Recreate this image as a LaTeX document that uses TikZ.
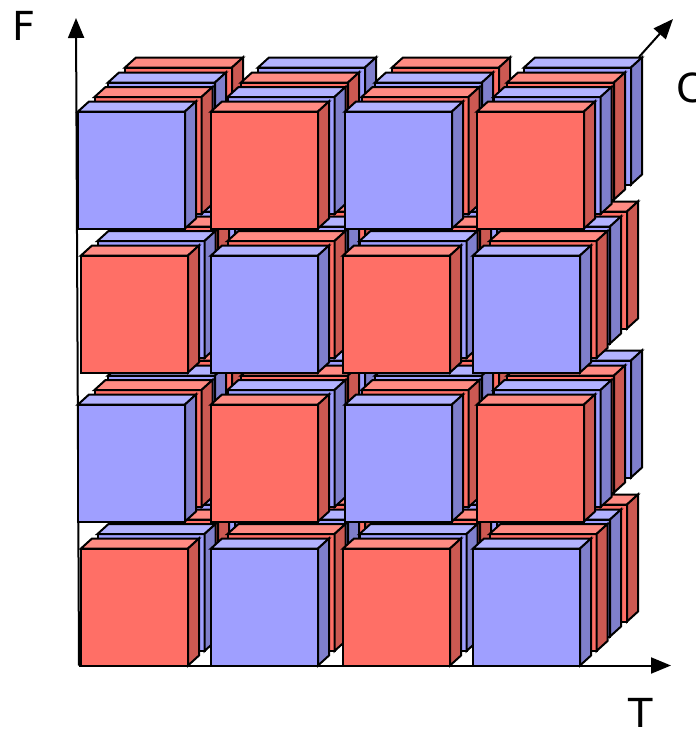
\documentclass[tikz,border=0pt]{standalone}
\usepackage{fontspec}
\setmainfont{DejaVu Sans}
\usetikzlibrary{arrows.meta}
\definecolor{blueF}{HTML}{9F9FFF}
\definecolor{blueT}{HTML}{B2B2FF}
\definecolor{blueS}{HTML}{7F7FCC}
\definecolor{redF}{HTML}{FF6F66}
\definecolor{redT}{HTML}{FF8B83}
\definecolor{redS}{HTML}{CC5952}
\tikzset{
  facet/.style={draw=black,line width=1.5pt,line join=miter},
  axisline/.style={draw=black,line width=1.5pt,-{Triangle[length=15pt,width=12pt]}},
  axislabel/.style={font=\fontsize{30pt}{32pt}\selectfont,inner sep=0pt,text=black}
}
% #1 x, #2 y of the front face's top left, #3 colour prefix
\newcommand{\drawcube}[3]{%
  \path[facet,fill=#3F] (#1,#2) rectangle ++(107,117);
  \path[facet,fill=#3T] (#1,#2) -- ++(11,-10) -- ++(107,0) -- ++(-11,10) -- cycle;
  \path[facet,fill=#3S] (#1+107,#2) -- ++(11,-10) -- ++(0,117) -- ++(-11,10) -- cycle;
}
\begin{document}
\begin{tikzpicture}[x=0.75pt,y=-0.75pt]
\useasboundingbox (0,0) rectangle (696,729);
\fill[white] (0,0) rectangle (696,729);
\coordinate (O) at (79,665.5);
\coordinate (Ftip) at (76,18);
\coordinate (Ttip) at (671,665.5);
\coordinate (Cbase) at (639,57);
\coordinate (Ctip) at (673,19);
\draw[axisline] (O) -- (Ftip);
\draw[axisline] (O) -- (Ttip);
\draw[axisline] (Cbase) -- (Ctip);
\node[axislabel] (labF) at (24.5,26) {F};
\node[axislabel] (labC) at (690,88) {C};
\node[axislabel] (labT) at (641,713) {T};
\foreach \lay/\dx/\dy in {3/47/-44,2/30/-29,1/16.5/-14.5,0/0/0}{
  \foreach \row/\yy in {0/111.5,1/255.5,2/404.5,3/548.5}{
    \foreach \col in {0,1,2,3}{
      \pgfmathtruncatemacro{\parity}{mod(\lay+\row+\col,2)}
      \pgfmathtruncatemacro{\oddrow}{mod(\row,2)}
      \ifnum\oddrow=0
        \pgfmathsetmacro{\xx}{{78,211,345,477}[\col]}
      \else
        \pgfmathsetmacro{\xx}{{81,211,343,473}[\col]}
      \fi
      \pgfmathsetmacro{\px}{\xx+\dx}
      \pgfmathsetmacro{\py}{\yy+\dy}
      \ifnum\parity=0
        \drawcube{\px}{\py}{blue}
      \else
        \drawcube{\px}{\py}{red}
      \fi
    }
  }
}
\end{tikzpicture}
\end{document}
